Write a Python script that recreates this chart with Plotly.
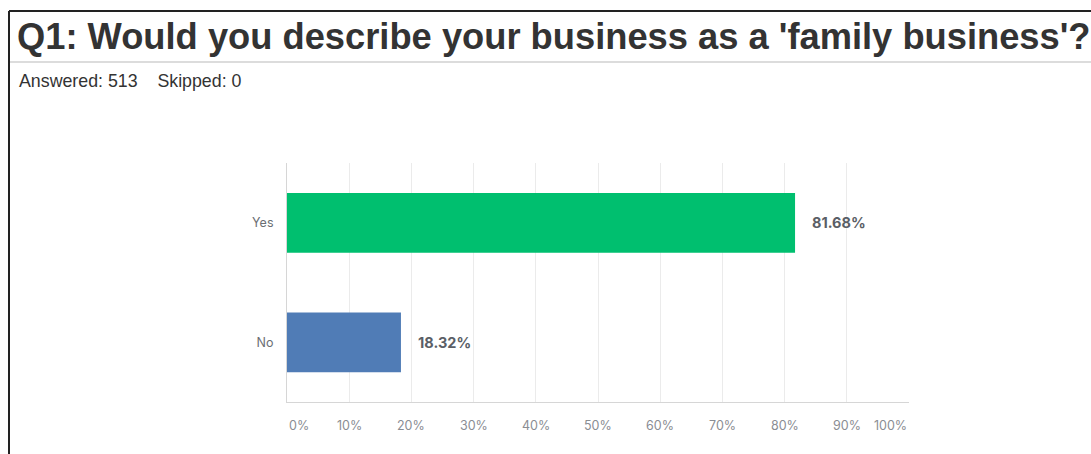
import plotly.graph_objects as go

categories = ["Yes", "No"]
values = [81.68, 18.32]
bar_colors = ["#00BF6F", "#507CB6"]
tick_vals = [0, 10, 20, 30, 40, 50, 60, 70, 80, 90, 100]
tick_labels = ["0%", "10%", "20%", "30%", "40%", "50%", "60%", "70%", "80%", "90%", "100%"]
title_text = "Q1: Would you describe your business as a 'family business'?"
sub_text = "Answered: 513&nbsp;&nbsp;&nbsp;&nbsp;Skipped: 0"

W, H = 1091, 454
L, R, T, B = 287, 909, 163, 402
PW, PH = R - L, B - T


def px(x):
    return (x - L) / PW


def py(y):
    return (B - y) / PH


fig = go.Figure()
fig.add_trace(go.Bar(
    y=categories, x=values, orientation="h",
    marker=dict(color=bar_colors, line=dict(width=0)),
    width=0.5, hoverinfo="skip",
))

for c, v in zip(categories, values):
    fig.add_annotation(x=v, y=c, xref="x", yref="y", text=f"<b>{v:.2f}%</b>",
                       showarrow=False, xanchor="left", yanchor="middle", xshift=15,
                       font=dict(family="Inter, Arial", size=14.5, color="#5a5e66"))

for v, t in zip(tick_vals, tick_labels):
    anchor = "left" if v == 0 else ("right" if v == 100 else "center")
    fig.add_annotation(x=v, y=py(425), xref="x", yref="paper", text=t,
                       showarrow=False, xanchor=anchor, yanchor="middle",
                       font=dict(family="Inter, Arial", size=12.5, color="#8a8d93"))

fig.add_annotation(x=px(17), y=py(81), xref="paper", yref="paper", text=sub_text,
                   showarrow=False, xanchor="left", yanchor="middle",
                   font=dict(family="Liberation Sans, Arial", size=17.8, color="#333333"))

# frame lines
fig.add_shape(type="line", xref="paper", yref="paper", x0=px(9), x1=px(W + 5), y0=py(11), y1=py(11),
              line=dict(color="#222222", width=2))
fig.add_shape(type="line", xref="paper", yref="paper", x0=px(9), x1=px(9), y0=py(11), y1=py(H + 5),
              line=dict(color="#222222", width=2))
fig.add_shape(type="line", xref="paper", yref="paper", x0=px(10), x1=px(W + 5), y0=py(62), y1=py(62),
              line=dict(color="#dcdcdc", width=2))

fig.update_layout(
    width=W, height=H,
    margin=dict(l=L, r=W - R, t=T, b=H - B, pad=0),
    paper_bgcolor="white", plot_bgcolor="white",
    showlegend=False,
    title=dict(text=f"<b>{title_text}</b>", xref="container", yref="container",
               x=17 / W, xanchor="left", y=1 - 36 / H, yanchor="middle",
               font=dict(family="Liberation Sans, Arial", size=36.3, color="#333333")),
    xaxis=dict(range=[0, 100], tickvals=tick_vals, showticklabels=False,
               showgrid=True, gridcolor="#ebebeb", gridwidth=1,
               showline=True, linecolor="#d6d6d6", linewidth=1, zeroline=False,
               fixedrange=True, mirror=False),
    yaxis=dict(range=[1.5, -0.5], categoryorder="array", categoryarray=categories,
               showgrid=False, showline=True, linecolor="#d6d6d6", linewidth=1,
               zeroline=False, ticks="", ticklabelstandoff=10,
               tickfont=dict(family="Inter, Arial", size=12.5, color="#6b6e73"),
               fixedrange=True),
    bargap=0.5,
)

fig.write_html("out.html")
